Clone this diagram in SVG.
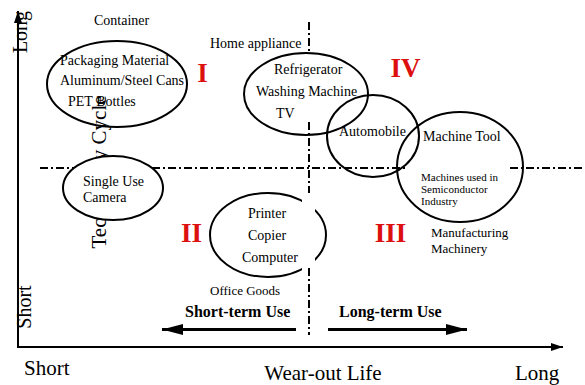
<svg xmlns="http://www.w3.org/2000/svg" width="585" height="385" viewBox="0 0 585 385">
<style>
text{font-family:"Liberation Serif","Times New Roman",serif;fill:#000}
.t14{font-size:14px}
.t13{font-size:13px}
.t11{font-size:11px}
.ax{font-size:21px}
.rn{font-size:27px;font-weight:bold;fill:#dd1010;text-anchor:middle}
.bl{font-size:16px;font-weight:bold}
.el{stroke:#000;stroke-width:2;fill:#fff}
.eo{stroke:#000;stroke-width:2;fill:none}
.dd{stroke:#000;stroke-width:2;fill:none;stroke-dasharray:8,3,2,3}
.ln{stroke:#000;fill:none}
</style>
<defs>
<marker id="ah" markerUnits="userSpaceOnUse" markerWidth="12" markerHeight="8" refX="12" refY="4" orient="auto"><path d="M0,0 L12,4 L0,8 z" fill="#000"/></marker>
<marker id="bh" markerUnits="userSpaceOnUse" markerWidth="21" markerHeight="11" refX="21" refY="5.5" orient="auto"><path d="M0,0 L21,5.5 L0,11 z" fill="#000"/></marker>
</defs>

<g id="axes">
<text class="ax" transform="translate(27,32) rotate(-90)" text-anchor="middle" style="font-size:20px">Long</text>
<text class="ax" transform="translate(31,307) rotate(-90)" text-anchor="middle" style="font-size:20px">Short</text>
<text class="ax" transform="translate(106,172) rotate(-90)" text-anchor="middle">Technology Cycle</text>
<text class="ax" x="24" y="375">Short</text>
<text class="ax" x="323" y="380" text-anchor="middle">Wear-out Life</text>
<text class="ax" x="515" y="380">Long</text>
</g>

<g id="container">
<ellipse cx="117" cy="84" rx="70" ry="43" class="eo"/>
<text class="t14" x="94" y="25">Container</text>
<text class="t14" x="60" y="65">Packaging Material</text>
<text class="t14" x="60" y="85">Aluminum/Steel Cans</text>
<text class="t14" x="68" y="106">PET Bottles</text>
</g>

<g id="camera">
<ellipse cx="113" cy="188" rx="50" ry="32" class="el"/>
<text class="t14" x="83" y="186">Single Use</text>
<text class="t14" x="83" y="202">Camera</text>
</g>

<g id="home">
<ellipse cx="306" cy="94" rx="62" ry="41" class="el"/>
<text class="t14" x="210" y="48">Home appliance</text>
<text class="t14" x="274" y="74">Refrigerator</text>
<text class="t14" x="256" y="96">Washing Machine</text>
<text class="t14" x="276" y="118">TV</text>
</g>

<g id="auto">
<ellipse cx="373" cy="136" rx="46" ry="41" class="eo"/>
<text class="t14" x="339" y="136">Automobile</text>
</g>

<g id="machine">
<ellipse cx="460" cy="167" rx="63" ry="55" class="eo"/>
<text class="t14" x="423" y="141">Machine Tool</text>
<text class="t11" x="421" y="181">Machines used in</text>
<text class="t11" x="421" y="193">Semiconductor</text>
<text class="t11" x="421" y="205">Industry</text>
<text class="t13" x="431" y="237">Manufacturing</text>
<text class="t13" x="431" y="253">Machinery</text>
</g>

<g id="office">
<ellipse cx="268" cy="235" rx="58" ry="42" class="el"/>
<rect x="302" y="190" width="13" height="82" fill="#fff"/>
<text class="t14" x="248" y="218">Printer</text>
<text class="t14" x="248" y="240">Copier</text>
<text class="t14" x="242" y="262">Computer</text>
<text class="t13" x="210" y="295">Office Goods</text>
</g>

<g id="quadrants">
<text class="rn" x="202.5" y="82">I</text>
<text class="rn" x="405.5" y="77">IV</text>
<text class="rn" x="191.5" y="242">II</text>
<text class="rn" x="390.5" y="242">III</text>
</g>

<g id="connectors">
<line class="ln" x1="18" y1="347" x2="18" y2="11" stroke-width="2" marker-end="url(#ah)"/>
<line class="ln" x1="17" y1="347" x2="563" y2="347" stroke-width="2" marker-end="url(#ah)"/>
<path class="dd" d="M40,168 H74 M152,168 H407 M510,168 H585"/>
<path class="dd" d="M309,22 V53 M309,122 V193 M309,268 V335"/>
<line class="ln" x1="296" y1="329.5" x2="162" y2="329.5" stroke-width="3" marker-end="url(#bh)"/>
<line class="ln" x1="328" y1="329.5" x2="467" y2="329.5" stroke-width="3" marker-end="url(#bh)"/>
<text class="bl" x="185" y="317">Short-term Use</text>
<text class="bl" x="339" y="317">Long-term Use</text>
</g>
</svg>
